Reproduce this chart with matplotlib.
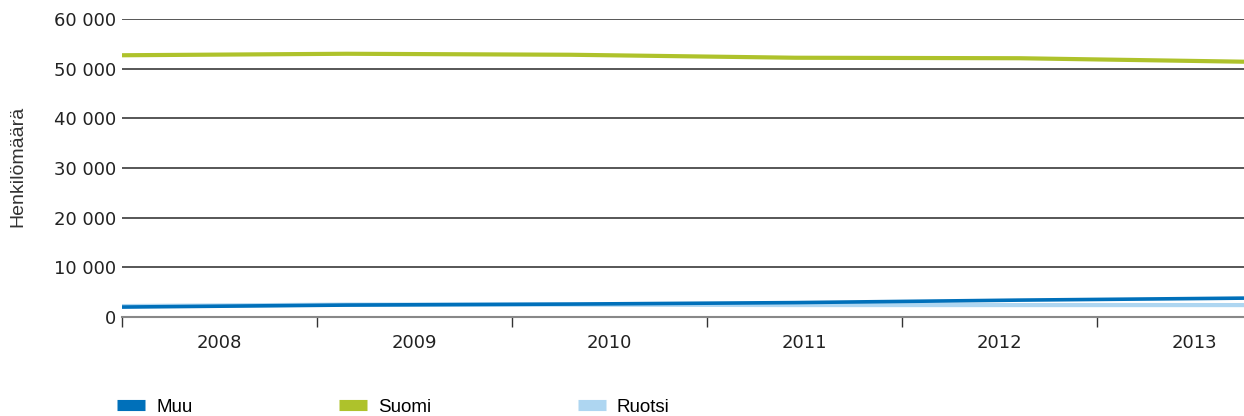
import numpy as np
import matplotlib.pyplot as plt
from matplotlib.ticker import FuncFormatter

# data
years = ['2008', '2009', '2010', '2011', '2012', '2013']
muu = [2000, 2400, 2600, 2900, 3400, 3800]
suomi = [52700, 53000, 52800, 52200, 52100, 51400]
ruotsi = [2200, 2500, 2500, 2400, 2400, 2400]

fig = plt.figure(figsize=(12.44, 4.16), dpi=100)
ax = fig.add_axes([122/1244, 1 - 317/416, 1 - 122/1244, 298/416])

# category axis is cut at the right edge of the picture (195 px per year)
xmax = 1122 / 195
x = np.linspace(0, xmax, len(years))
ax.plot(x, ruotsi, color='#aed6f1', lw=3, label='Ruotsi', solid_capstyle='butt')
ax.plot(x, muu, color='#0070ba', lw=2.6, label='Muu', solid_capstyle='butt')
ax.plot(x, suomi, color='#aec22b', lw=3, label='Suomi', solid_capstyle='butt')

ax.set_xlim(0, xmax)
ax.set_ylim(0, 60000)
ax.set_yticks(np.arange(0, 60001, 10000))
ax.yaxis.set_major_formatter(FuncFormatter(lambda v, p: f'{int(v):,}'.replace(',', ' ')))
ax.grid(axis='y', color='#3a3a3a', lw=1.2)
ax.set_axisbelow(True)

ax.set_xticks(np.arange(0, len(years)))
ax.set_xticklabels([])
ax.set_xticks(np.arange(len(years)) + 0.5, minor=True)
ax.set_xticklabels(years, minor=True)
ax.tick_params(axis='x', which='major', length=7, width=1, color='#333333')
ax.tick_params(axis='x', which='minor', length=0, pad=12, labelsize=13, labelcolor='#222222')
ax.tick_params(axis='y', length=0, pad=4, labelsize=13, labelcolor='#222222')

for s in ['top', 'right', 'left']:
    ax.spines[s].set_visible(False)
ax.spines['bottom'].set_color('#888888')
ax.spines['bottom'].set_linewidth(1.5)

fig.text(18/1244, 1 - 166/416, 'Henkilömäärä', rotation=90, va='center', ha='center',
         fontsize=14, color='#333333', family='Liberation Sans')

# legend in order Muu, Suomi, Ruotsi
h, l = ax.get_legend_handles_labels()
order = [1, 2, 0]
leg = fig.legend([h[i] for i in order], [l[i] for i in order], loc='lower left',
                 bbox_to_anchor=(100/1244, -0.04), ncol=3, frameon=False,
                 handlelength=1.5, handletextpad=0.6, columnspacing=7.8,
                 prop={'family': 'Liberation Sans', 'size': 13.5})
for ln in leg.get_lines():
    ln.set_linewidth(8)

fig.savefig('out.png', dpi=100)
